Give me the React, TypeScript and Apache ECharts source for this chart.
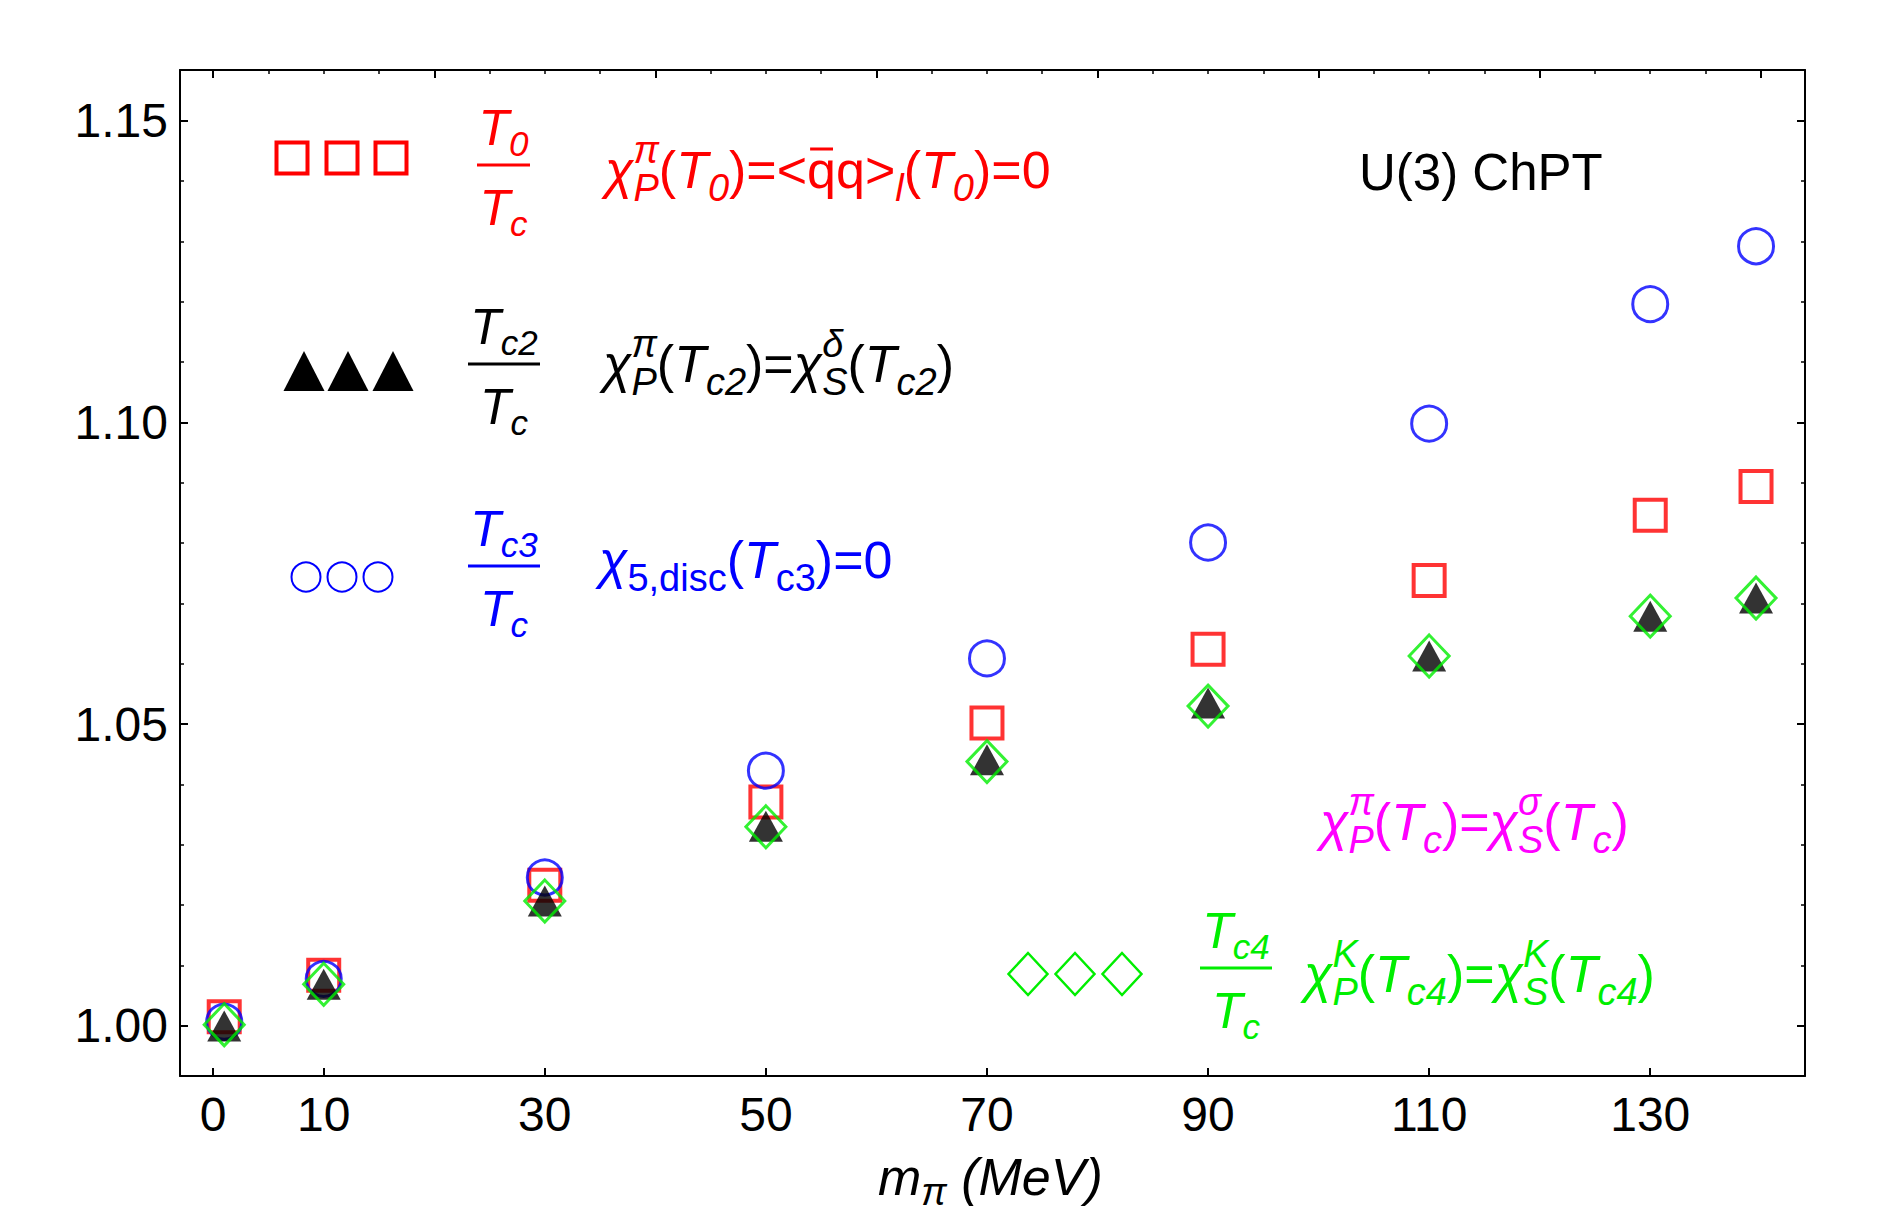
import React, { useEffect, useRef } from "react";
import * as echarts from "echarts";

// ---------- data ----------
const mPi = [1, 10, 30, 50, 70, 90, 110, 130, 139.57];
const ratioT0 = [1.0015, 1.0084, 1.0233, 1.0371, 1.0502, 1.0624, 1.0738, 1.0846, 1.0894];
const ratioTc2 = [1.0, 1.0069, 1.0207, 1.0331, 1.0441, 1.0535, 1.0613, 1.0679, 1.0709];
const ratioTc3 = [1.0007, 1.0078, 1.0246, 1.0423, 1.0609, 1.0801, 1.0998, 1.1196, 1.1292];
const ratioTc4 = [1.0002, 1.0069, 1.0207, 1.033, 1.0438, 1.053, 1.0613, 1.0679, 1.0709];

// ---------- ticks ----------
const xLabelTicks = [0, 10, 30, 50, 70, 90, 110, 130];
const xTopMajor = [0, 20, 40, 60, 80, 100, 120, 140];
const xTopMinor = [5, 10, 15, 25, 30, 35, 45, 50, 55, 65, 70, 75, 85, 90, 95, 105, 110, 115, 125, 130, 135];
const yMajor = [1.0, 1.05, 1.1, 1.15];
const yMinor = [1.01, 1.02, 1.03, 1.04, 1.06, 1.07, 1.08, 1.09, 1.11, 1.12, 1.13, 1.14];
const X_MIN = -3;
const X_MAX = 144;
const Y_MIN = 0.9917;
const Y_MAX = 1.1584;

const FONT = '"Liberation Sans", Arial, Helvetica, sans-serif';
const RED = "#ff0000";
const BLUE = "#0000ff";
const GREEN = "#00ee00";
const MAGENTA = "#ff00ff";
const BLACK = "#000000";

type Sizes = { fs: number; sfs: number; up: number; down: number };
const MAIN: Sizes = { fs: 52, sfs: 38, up: 25, down: 13 };
const FRAC: Sizes = { fs: 50, sfs: 35, up: 22, down: 11 };

let measureCtx: CanvasRenderingContext2D | null = null;
function mw(t: string, size: number, it: boolean): number {
  if (!measureCtx) measureCtx = document.createElement("canvas").getContext("2d");
  measureCtx!.font = `${it ? "italic " : ""}${size}px ${FONT}`;
  return measureCtx!.measureText(t).width;
}

function txt(x: number, base: number, t: string, size: number, it: boolean, color: string) {
  return {
    type: "text",
    x,
    y: base - 0.3465 * size,
    silent: true,
    z: 100,
    style: {
      text: t,
      fontSize: size,
      fontFamily: FONT,
      fontStyle: it ? "italic" : "normal",
      fill: color,
      align: "left",
      verticalAlign: "middle",
      textAlign: "left",
      textVerticalAlign: "middle",
    },
  };
}

type Piece = { t?: string; it?: boolean; sup?: string; sub?: string; supIt?: boolean; subIt?: boolean; bar?: boolean };

function formula(x0: number, base: number, pieces: Piece[], color: string, out: any[], s: Sizes = MAIN): number {
  let x = x0;
  for (const p of pieces) {
    if (p.t) {
      const it = !!p.it;
      const w = mw(p.t, s.fs, it);
      out.push(txt(x, base, p.t, s.fs, it, color));
      if (p.bar) {
        out.push({
          type: "line",
          silent: true,
          z: 100,
          shape: { x1: x + 3, y1: base - 39, x2: x + w - 3, y2: base - 39 },
          style: { stroke: color, lineWidth: 3 },
        });
      }
      x += w;
    }
    let sw = 0;
    if (p.sup) {
      const it = p.supIt ?? true;
      out.push(txt(x, base - s.up, p.sup, s.sfs, it, color));
      sw = Math.max(sw, mw(p.sup, s.sfs, it));
    }
    if (p.sub) {
      const it = p.subIt ?? true;
      out.push(txt(x, base + s.down, p.sub, s.sfs, it, color));
      sw = Math.max(sw, mw(p.sub, s.sfs, it));
    }
    x += sw;
  }
  return x;
}

function width(pieces: Piece[], s: Sizes): number {
  let w = 0;
  for (const p of pieces) {
    if (p.t) w += mw(p.t, s.fs, !!p.it);
    let sw = 0;
    if (p.sup) sw = Math.max(sw, mw(p.sup, s.sfs, p.supIt ?? true));
    if (p.sub) sw = Math.max(sw, mw(p.sub, s.sfs, p.subIt ?? true));
    w += sw;
  }
  return w;
}

function fraction(cx: number, lineY: number, halfW: number, num: Piece[], den: Piece[], color: string, out: any[]) {
  out.push({
    type: "line",
    silent: true,
    z: 100,
    shape: { x1: cx - halfW, y1: lineY, x2: cx + halfW, y2: lineY },
    style: { stroke: color, lineWidth: 3 },
  });
  formula(cx - width(num, FRAC) / 2, lineY - 20, num, color, out, FRAC);
  formula(cx - width(den, FRAC) / 2, lineY + 60, den, color, out, FRAC);
}

function buildGraphics(): any[] {
  const g: any[] = [];
  // legend markers
  [292, 342, 391].forEach((cx) =>
    g.push({
      type: "rect",
      silent: true,
      shape: { x: cx - 15.5, y: 158 - 15.5, width: 31, height: 31 },
      style: { fill: "none", stroke: RED, lineWidth: 4 },
    })
  );
  [304, 348, 393].forEach((cx) =>
    g.push({
      type: "polygon",
      silent: true,
      shape: { points: [[cx, 351], [cx + 20.5, 391], [cx - 20.5, 391]] },
      style: { fill: BLACK },
    })
  );
  [306, 342, 378].forEach((cx) =>
    g.push({
      type: "circle",
      silent: true,
      shape: { cx, cy: 577, r: 14.5 },
      style: { fill: "none", stroke: BLUE, lineWidth: 2 },
    })
  );
  [1028, 1075, 1122].forEach((cx) =>
    g.push({
      type: "polygon",
      silent: true,
      shape: { points: [[cx, 953], [cx + 19.5, 974], [cx, 995], [cx - 19.5, 974]] },
      style: { fill: "none", stroke: GREEN, lineWidth: 2.5 },
    })
  );

  // fractions
  const Tc: Piece[] = [{ t: "T", it: true, sub: "c" }];
  fraction(503.5, 165, 26.5, [{ t: "T", it: true, sub: "0" }], Tc, RED, g);
  fraction(504, 364, 36, [{ t: "T", it: true, sub: "c2" }], Tc, BLACK, g);
  fraction(504, 566, 36, [{ t: "T", it: true, sub: "c3" }], Tc, BLUE, g);
  fraction(1236, 968, 36, [{ t: "T", it: true, sub: "c4" }], Tc, GREEN, g);

  // formulas
  formula(605, 188, [
    { t: "χ", it: true, sup: "π", sub: "P" },
    { t: "(" },
    { t: "T", it: true, sub: "0" },
    { t: ")=<" },
    { t: "q", bar: true },
    { t: "q>" },
    { sub: "l" },
    { t: "(" },
    { t: "T", it: true, sub: "0" },
    { t: ")=0" },
  ], RED, g);

  formula(603, 382, [
    { t: "χ", it: true, sup: "π", sub: "P" },
    { t: "(" },
    { t: "T", it: true, sub: "c2" },
    { t: ")=" },
    { t: "χ", it: true, sup: "δ", sub: "S" },
    { t: "(" },
    { t: "T", it: true, sub: "c2" },
    { t: ")" },
  ], BLACK, g);

  formula(599, 578, [
    { t: "χ", it: true, sub: "5,disc", subIt: false },
    { t: "(" },
    { t: "T", it: true, sub: "c3", subIt: false },
    { t: ")=0" },
  ], BLUE, g);

  formula(1320, 840, [
    { t: "χ", it: true, sup: "π", sub: "P" },
    { t: "(" },
    { t: "T", it: true, sub: "c" },
    { t: ")=" },
    { t: "χ", it: true, sup: "σ", sub: "S" },
    { t: "(" },
    { t: "T", it: true, sub: "c" },
    { t: ")" },
  ], MAGENTA, g);

  formula(1304, 992, [
    { t: "χ", it: true, sup: "K", sub: "P" },
    { t: "(" },
    { t: "T", it: true, sub: "c4" },
    { t: ")=" },
    { t: "χ", it: true, sup: "K", sub: "S" },
    { t: "(" },
    { t: "T", it: true, sub: "c4" },
    { t: ")" },
  ], GREEN, g);

  // model label
  g.push(txt(1359, 190, "U(3) ChPT", 51, false, BLACK));

  // x axis title
  formula(878, 1195, [
    { t: "m", it: true, sub: "π" },
    { t: " (MeV)", it: true },
  ], BLACK, g, { fs: 52, sfs: 38, up: 25, down: 10 });

  return g;
}

function buildOption(): any {
  const axisLine = { show: true, onZero: false, lineStyle: { color: BLACK, width: 2 } };
  const noLine = { show: false, onZero: false };
  const label = { color: BLACK, fontSize: 48, fontFamily: FONT };
  const majorTick = (vals: number[]) => ({ show: true, inside: true, length: 8, customValues: vals, lineStyle: { color: BLACK, width: 2 } });
  const minorTick = (vals: number[]) => ({ show: true, inside: true, length: 4, customValues: vals, lineStyle: { color: BLACK, width: 1.5 } });
  const xBase = { type: "value", min: X_MIN, max: X_MAX, splitLine: { show: false } };
  const yBase = { type: "value", min: Y_MIN, max: Y_MAX, splitLine: { show: false } };

  const hollow = (color: string, bw: number) => ({ color: "rgba(0,0,0,0)", borderColor: color, borderWidth: bw });

  const pts = (ys: number[]) => mPi.map((x, i) => [x, ys[i]]);

  return {
    animation: false,
    backgroundColor: "#ffffff",
    grid: { left: 180, right: 75, top: 70, bottom: 139, containLabel: false },
    xAxis: [
      {
        ...xBase,
        position: "bottom",
        axisLine,
        axisTick: majorTick(xLabelTicks),
        axisLabel: { show: true, customValues: xLabelTicks, margin: 14, ...label },
      },
      { ...xBase, position: "top", axisLine, axisTick: majorTick(xTopMajor), axisLabel: { show: false } },
      { ...xBase, position: "top", axisLine: noLine, axisTick: minorTick(xTopMinor), axisLabel: { show: false } },
    ],
    yAxis: [
      {
        ...yBase,
        position: "left",
        axisLine,
        axisTick: majorTick(yMajor),
        axisLabel: {
          show: true,
          customValues: yMajor,
          margin: 12,
          formatter: (v: number) => v.toFixed(2),
          ...label,
        },
      },
      { ...yBase, position: "left", axisLine: noLine, axisTick: minorTick(yMinor), axisLabel: { show: false } },
      { ...yBase, position: "right", axisLine, axisTick: majorTick(yMajor), axisLabel: { show: false } },
      { ...yBase, position: "right", axisLine: noLine, axisTick: minorTick(yMinor), axisLabel: { show: false } },
    ],
    series: [
      {
        name: "T0/Tc",
        type: "scatter",
        xAxisIndex: 0,
        yAxisIndex: 0,
        symbol: "rect",
        symbolSize: 31,
        itemStyle: hollow(RED, 4),
        data: pts(ratioT0),
        silent: true,
        emphasis: { disabled: true },
      },
      {
        name: "Tc3/Tc",
        type: "scatter",
        xAxisIndex: 0,
        yAxisIndex: 0,
        symbol: "circle",
        symbolSize: 35,
        itemStyle: hollow(BLUE, 3),
        data: pts(ratioTc3),
        silent: true,
        emphasis: { disabled: true },
      },
      {
        name: "Tc2/Tc",
        type: "scatter",
        xAxisIndex: 0,
        yAxisIndex: 0,
        symbol: "triangle",
        symbolSize: [34, 31],
        itemStyle: { color: BLACK },
        data: pts(ratioTc2),
        silent: true,
        emphasis: { disabled: true },
      },
      {
        name: "Tc4/Tc",
        type: "scatter",
        xAxisIndex: 0,
        yAxisIndex: 0,
        symbol: "diamond",
        symbolSize: [40, 42],
        itemStyle: hollow(GREEN, 3),
        data: pts(ratioTc4),
        silent: true,
        emphasis: { disabled: true },
      },
    ],
    graphic: { elements: buildGraphics() },
  };
}

export default function App() {
  const ref = useRef<HTMLDivElement>(null);
  useEffect(() => {
    document.body.style.margin = "0";
    const chart = echarts.init(ref.current!, null, { renderer: "svg" });
    chart.setOption(buildOption());
    return () => chart.dispose();
  }, []);
  return <div ref={ref} style={{ width: 1880, height: 1215, background: "#fff" }} />;
}
